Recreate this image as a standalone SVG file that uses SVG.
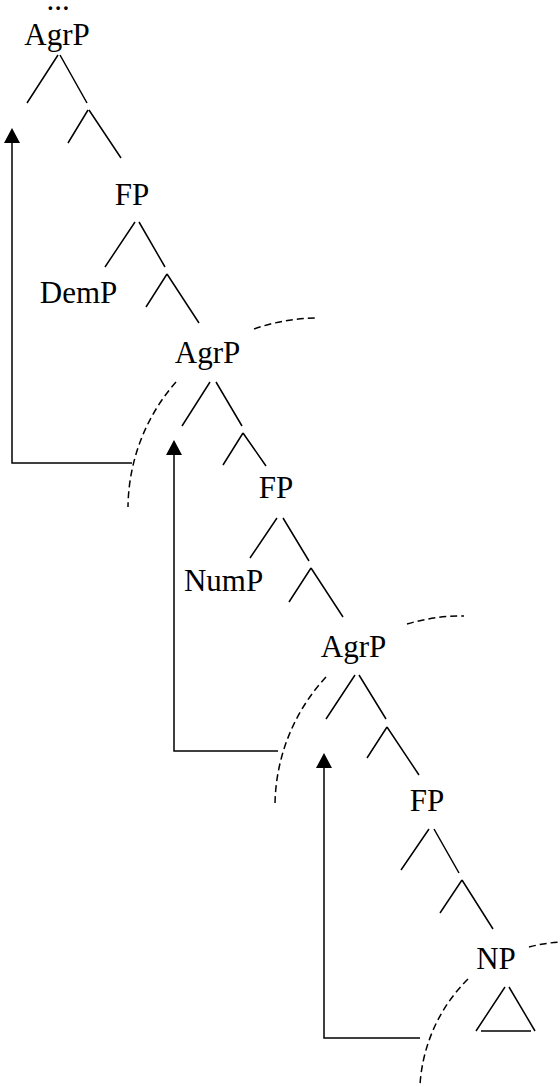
<svg xmlns="http://www.w3.org/2000/svg" width="560" height="1087" viewBox="0 0 560 1087">
<style>
  .lbl { font-family: "Liberation Serif", "Times New Roman", serif; font-size: 31px; fill: #000; text-anchor: middle; }
  .br { stroke: #000; stroke-width: 1.5; fill: none; stroke-linecap: butt; }
  .arr { stroke: #000; stroke-width: 1.5; fill: none; marker-end: url(#ah); }
  .dash { stroke: #000; stroke-width: 1.5; fill: none; stroke-dasharray: 7 4; }
</style>
<defs>
  <marker id="ah" viewBox="0 0 15 16" refX="0" refY="8" markerWidth="15" markerHeight="16" markerUnits="userSpaceOnUse" orient="auto">
    <path d="M0,0 L15,8 L0,16 Z" fill="#000"/>
  </marker>
</defs>
<rect width="560" height="1087" fill="#fff"/>

<g id="connectors">
  <!-- tree branches -->
  <path class="br" d="M58,55 L27,103 M60,55 L87,103"/>
  <path class="br" d="M88,110 L68,143 M89,110 L121,158"/>
  <path class="br" d="M135,222 L105,267 M139,222 L165,267"/>
  <path class="br" d="M167,274 L146,307 M167,274 L199,323"/>
  <path class="br" d="M210,382 L182,426 M216,382 L242,426"/>
  <path class="br" d="M243,433 L223,465 M243,433 L266,466"/>
  <path class="br" d="M277,518 L250,558 M283,518 L309,561"/>
  <path class="br" d="M311,568 L289,602 M311,568 L343,617"/>
  <path class="br" d="M355,675 L326,719 M359,675 L386,719"/>
  <path class="br" d="M387,727 L367,758 M387,727 L419,775"/>
  <path class="br" d="M429,829 L401,870 M434,829 L459,873"/>
  <path class="br" d="M462,880 L440,913 M462,880 L493,929"/>
  <path class="br" d="M505,987 L476,1031 M509,987 L535,1031 M481,1031 L531,1031"/>
  <!-- movement arrows -->
  <path class="arr" d="M132,463 H12 V143"/>
  <path class="arr" d="M278,751 H174 V455"/>
  <path class="arr" d="M420,1038 H324 V768"/>
</g>

<g id="boundaries">
  <path class="dash" d="M176,382 A192,192 0 0 0 128,507"/>
  <path class="dash" d="M254,329 A192,192 0 0 1 317,318"/>
  <path class="dash" d="M326,677 A191,191 0 0 0 275,804"/>
  <path class="dash" d="M407,624 A191,191 0 0 1 464,616"/>
  <path class="dash" d="M468,979 A163,163 0 0 0 420,1085"/>
  <path class="dash" d="M529,947 A163,163 0 0 1 560,942"/>
</g>

<g id="dots"><text class="lbl" x="58" y="10">...</text></g>
<g id="agrp1"><text class="lbl" x="57" y="45">AgrP</text></g>
<g id="fp1"><text class="lbl" x="132" y="205">FP</text></g>
<g id="demp"><text class="lbl" x="78.5" y="303">DemP</text></g>
<g id="agrp2"><text class="lbl" x="207.5" y="363">AgrP</text></g>
<g id="fp2"><text class="lbl" x="276" y="498">FP</text></g>
<g id="nump"><text class="lbl" x="223.5" y="591">NumP</text></g>
<g id="agrp3"><text class="lbl" x="353.5" y="657">AgrP</text></g>
<g id="fp3"><text class="lbl" x="427" y="811">FP</text></g>
<g id="np"><text class="lbl" x="496" y="969">NP</text></g>
</svg>
